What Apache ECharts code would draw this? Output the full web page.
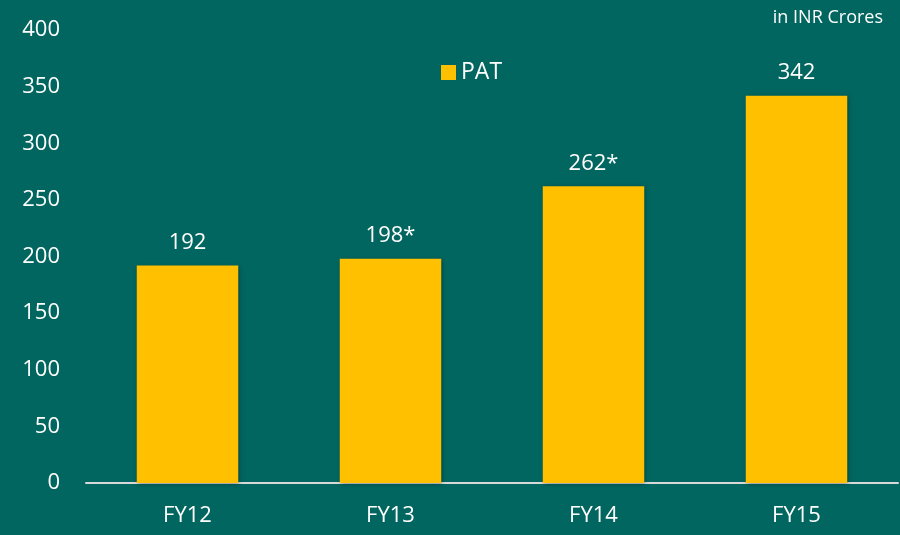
<!DOCTYPE html>
<html><head><meta charset="utf-8">
<script src="https://cdn.jsdelivr.net/npm/echarts@6/dist/echarts.min.js"></script>
<style>html,body{margin:0;padding:0;background:#00665f;}#c{width:900px;height:535px;}</style>
</head><body><div id="c"></div>
<script>
const categories = ['FY12', 'FY13', 'FY14', 'FY15'];
const patValues = [192, 198, 262, 342];
const valueLabels = ['192', '198*', '262*', '342'];
const yTicks = { min: 0, max: 400, interval: 50 };

const chart = echarts.init(document.getElementById('c'), null, { renderer: 'canvas' });
const font = 'Open Sans, Noto Sans, sans-serif';
chart.setOption({
  backgroundColor: '#00665f',
  animation: false,
  grid: { left: 86, right: 2, top: 30, bottom: 52 },
  title: {
    text: 'in INR Crores', right: 12, top: 4,
    textStyle: { color: '#ffffff', fontSize: 18, fontWeight: 'normal', fontFamily: 'Open Sans, sans-serif' }
  },
  legend: {
    data: ['PAT'], left: 436, top: 56,
    icon: 'rect', itemWidth: 15, itemHeight: 15, itemGap: 6,
    textStyle: { color: '#ffffff', fontSize: 23, fontFamily: font }
  },
  xAxis: {
    type: 'category', data: categories,
    axisLine: { lineStyle: { color: '#d9d9d9', width: 2 } },
    axisTick: { show: false },
    axisLabel: { color: '#ffffff', fontSize: 22, fontFamily: font, margin: 22 }
  },
  yAxis: {
    type: 'value', min: yTicks.min, max: yTicks.max, interval: yTicks.interval,
    splitLine: { show: false },
    axisLine: { show: false }, axisTick: { show: false },
    axisLabel: { color: '#ffffff', fontSize: 22, fontFamily: font, margin: 26, align: 'right' }
  },
  series: [{
    name: 'PAT', type: 'bar', data: patValues, barWidth: '50%',
    itemStyle: { color: '#ffc000', shadowColor: 'rgba(0,0,0,0.35)', shadowBlur: 4, shadowOffsetX: 1, shadowOffsetY: 1 },
    label: {
      show: true, position: 'top', distance: 12, color: '#ffffff', fontSize: 22, fontFamily: font,
      formatter: p => valueLabels[p.dataIndex]
    }
  }]
});
</script></body></html>
